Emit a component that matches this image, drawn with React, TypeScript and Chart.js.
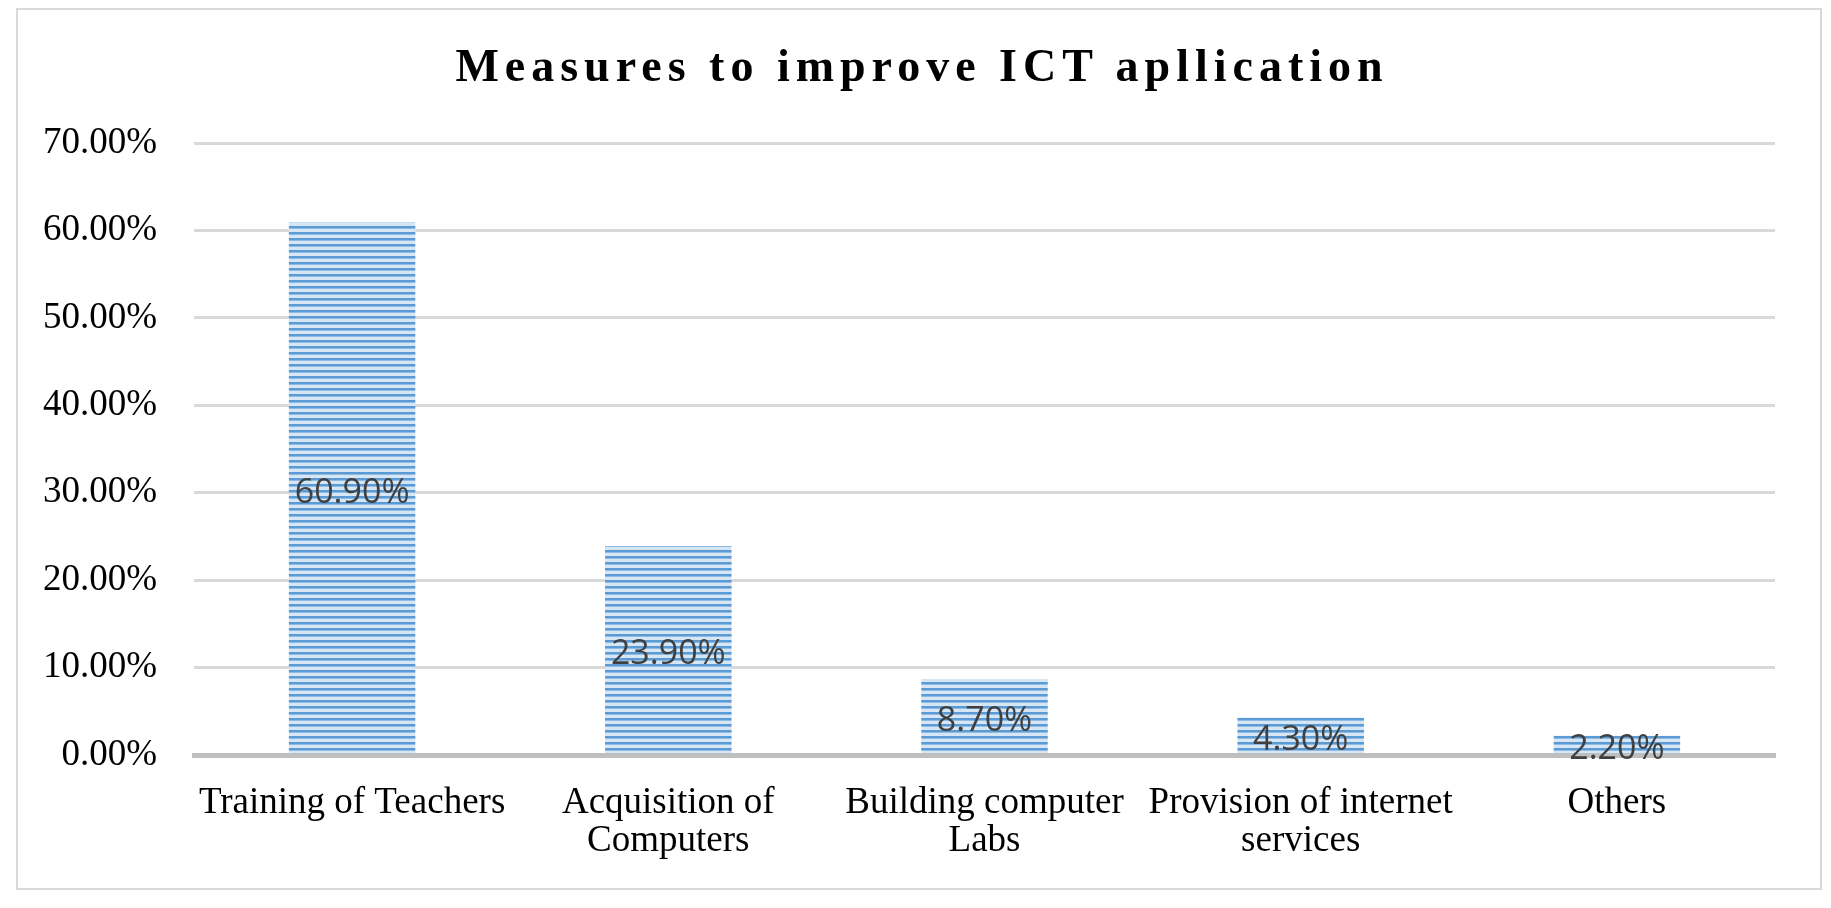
import { useEffect, useRef } from "react";
import { Chart, registerables } from "chart.js";

Chart.register(...registerables);

const TITLE = "Measures to improve ICT apllication";

const categories = [
  "Training of Teachers",
  ["Acquisition of", "Computers"],
  ["Building computer", "Labs"],
  ["Provision of internet", "services"],
  "Others",
];

const shares = [60.9, 23.9, 8.7, 4.3, 2.2];

const yMax = 70;
const yStep = 10;

function stripes(): CanvasPattern | string {
  const c = document.createElement("canvas");
  c.width = 8;
  c.height = 6;
  const g = c.getContext("2d");
  if (!g) return "#5b9bd5";
  g.fillStyle = "#d6e6f5";
  g.fillRect(0, 0, 8, 6);
  g.fillStyle = "#5b9bd5";
  g.fillRect(0, 0, 8, 2);
  g.fillStyle = "#8fbbe3";
  g.fillRect(0, 2, 8, 1);
  const p = g.createPattern(c, "repeat");
  return p || "#5b9bd5";
}

// labels in the middle of each bar, on top of the axis line
const barLabels = {
  id: "barLabels",
  afterDraw(chart: Chart) {
    const ctx = chart.ctx;
    const meta = chart.getDatasetMeta(0);
    ctx.save();
    ctx.font = '34px "Open Sans"';
    ctx.fillStyle = "#404040";
    ctx.textAlign = "center";
    ctx.textBaseline = "middle";
    meta.data.forEach((bar: any, i: number) => {
      const { x, y, base } = bar.getProps(["x", "y", "base"], true);
      ctx.fillText(shares[i].toFixed(2) + "%", x, (y + base) / 2 + 5);
    });
    ctx.restore();
  },
};

export default function App() {
  const canvasRef = useRef<HTMLCanvasElement | null>(null);
  const chartRef = useRef<Chart | null>(null);

  useEffect(() => {
    const ctx = canvasRef.current?.getContext("2d");
    if (!ctx) return;
    if (chartRef.current) chartRef.current.destroy();

    chartRef.current = new Chart(ctx, {
      type: "bar",
      data: {
        labels: categories,
        datasets: [
          {
            data: shares,
            backgroundColor: stripes(),
            borderWidth: 0,
            barPercentage: 0.4,
            categoryPercentage: 1,
          },
        ],
      },
      options: {
        animation: false,
        responsive: true,
        maintainAspectRatio: false,
        layout: { padding: { top: 133, right: 45, left: 0, bottom: 0 } },
        plugins: {
          legend: { display: false },
          title: { display: false },
          tooltip: { enabled: false },
        },
        scales: {
          x: {
            grid: { display: false },
            border: { display: true, color: "#bfbfbf", width: 5, z: 1 },
            ticks: {
              color: "#000",
              font: { family: '"Liberation Serif"', size: 37, lineHeight: 1.03 },
              padding: 21,
              maxRotation: 0,
              autoSkip: false,
            },
            afterFit: (scale: any) => {
              scale.height = 133;
            },
          },
          y: {
            min: 0,
            max: yMax,
            border: { display: false },
            grid: {
              drawTicks: false,
              lineWidth: 3,
              color: (c: any) => (c.tick && c.tick.value === 0 ? "rgba(0,0,0,0)" : "#d9d9d9"),
            },
            ticks: {
              stepSize: yStep,
              color: "#000",
              padding: 37,
              font: { family: '"Liberation Serif"', size: 37 },
              callback: (v: any) => Number(v).toFixed(2) + "%",
            },
            afterFit: (scale: any) => {
              scale.width = 176;
            },
          },
        },
      },
      plugins: [barLabels],
    });

    return () => {
      if (chartRef.current) {
        chartRef.current.destroy();
        chartRef.current = null;
      }
    };
  }, []);

  return (
    <div
      style={{
        position: "relative",
        marginLeft: 8,
        width: 1802,
        height: 878,
        border: "2px solid #d9d9d9",
        background: "#fff",
      }}
    >
      <div
        style={{
          position: "absolute",
          left: 0,
          right: 0,
          top: 33,
          textAlign: "center",
          fontFamily: '"Liberation Serif", serif',
          fontWeight: "bold",
          fontSize: 46,
          lineHeight: "46px",
          letterSpacing: 6,
          paddingLeft: 6,
          color: "#000",
          zIndex: 1,
        }}
      >
        {TITLE}
      </div>
      <div style={{ position: "absolute", left: 0, top: 0, width: 1802, height: 878 }}>
        <canvas ref={canvasRef} />
      </div>
    </div>
  );
}
